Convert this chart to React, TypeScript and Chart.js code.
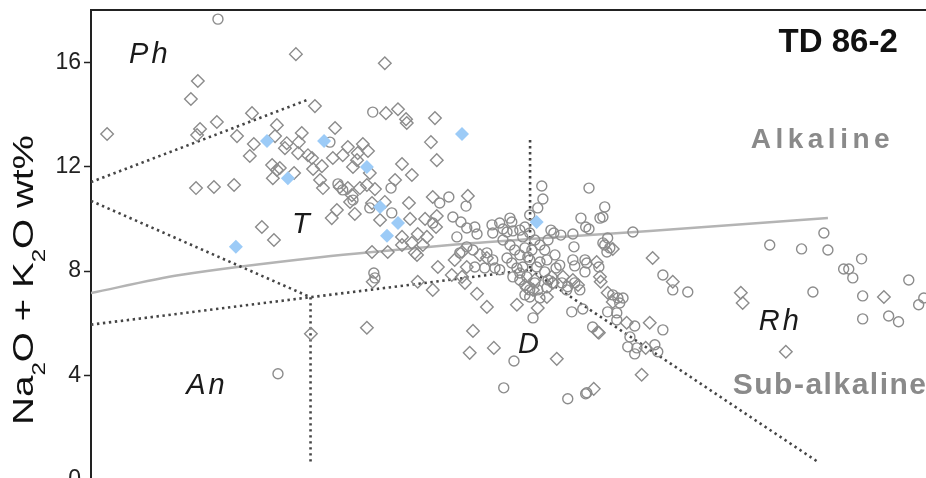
import React, { useEffect, useRef } from "react";
import { Chart, registerables } from "chart.js";

Chart.register(...registerables);

const FONT = '"Liberation Sans", Arial, Helvetica, sans-serif';

// Axis ranges (SiO2 wt% horizontally, total alkali wt% vertically)
const xRange: [number, number] = [57, 80.75];
const yRange: [number, number] = [0, 18];
const yTicks = [0, 4, 8, 12, 16];
const yTitleParts = [
  { text: "Na", sub: false },
  { text: "2", sub: true },
  { text: "O + K", sub: false },
  { text: "2", sub: true },
  { text: "O wt%", sub: false },
];

// Samples: open diamonds
const openDiamonds: [number, number][] = [
  [57.44, 13.25], [62.6, 16.31], [59.92, 15.28], [59.73, 14.59], [63.12, 14.32], [61.4, 14.05], [60.44, 13.71],
  [59.98, 13.44], [59.9, 13.21], [62.08, 13.59], [60.99, 13.17], [62.03, 13.17], [62.76, 13.29], [61.45, 12.87],
  [62.35, 12.9], [62.3, 12.71], [62.68, 12.94], [62.66, 12.52], [61.34, 12.41], [62.93, 12.44], [63.04, 12.33],
  [63.31, 12.02], [63.07, 11.91], [61.95, 12.06], [62.08, 11.87], [62.16, 11.95], [61.97, 11.56], [62.55, 11.76],
  [63.26, 11.49], [63.34, 11.18], [59.87, 11.18], [60.36, 11.22], [60.91, 11.3], [61.67, 9.69], [62.0, 9.19],
  [63.01, 5.6], [63.67, 13.48], [63.61, 12.33], [63.72, 10.34], [63.58, 10.03],
  [65.06, 14.05], [65.39, 14.2], [65.61, 13.82], [65.63, 13.67], [66.4, 13.86], [66.29, 12.94], [66.45, 12.25],
  [64.02, 12.75], [64.43, 12.87], [63.88, 12.44], [64.29, 12.52], [64.57, 12.6], [64.16, 11.99], [64.27, 12.25],
  [64.62, 11.76], [65.5, 12.1], [65.77, 11.68], [65.31, 11.49], [63.8, 11.22], [64.02, 11.18], [64.35, 11.18],
  [64.54, 11.3], [64.76, 11.14], [64.13, 10.91], [64.08, 10.65], [65.03, 10.65], [64.68, 10.61], [65.69, 10.61],
  [66.34, 10.84], [67.3, 10.88], [64.21, 10.19], [64.9, 9.96], [65.72, 10.0], [66.13, 10.0], [66.45, 10.11],
  [66.43, 9.69], [65.5, 9.31], [65.93, 9.42], [66.18, 9.31], [65.5, 9.0], [65.77, 9.08], [64.68, 8.73],
  [65.11, 8.73], [65.85, 8.7], [66.07, 9.0], [65.03, 15.96],
  [65.91, 8.62], [66.48, 8.16], [66.94, 8.43], [67.14, 8.73], [66.86, 7.85], [67.27, 8.16], [67.82, 8.5],
  [67.63, 8.62], [65.93, 7.59], [66.34, 7.28], [67.22, 7.55], [67.14, 7.78], [67.55, 7.13], [67.82, 6.63],
  [68.64, 6.71], [64.7, 7.59], [67.44, 5.71], [67.35, 4.87], [68.01, 5.06], [69.21, 6.59], [69.73, 4.64],
  [70.74, 3.49], [70.85, 5.67], [64.54, 5.83],
  [71.26, 8.85], [70.82, 8.35], [70.91, 7.78], [70.93, 7.59], [69.9, 7.78], [70.17, 7.66], [70.31, 7.47],
  [69.59, 7.78], [69.62, 7.55], [71.12, 7.17], [71.26, 6.82], [68.91, 7.36], [69.08, 7.28], [69.46, 7.01],
  [72.9, 7.59], [71.64, 6.02], [72.27, 6.02], [72.16, 5.06], [72.05, 4.03], [70.88, 5.64], [78.67, 7.01],
  [74.76, 7.17], [74.81, 6.78], [75.99, 4.91], [72.35, 8.5], [68.86, 7.47], [69.13, 7.66],
];

// Samples: open circles
const openCircles: [number, number][] = [
  [60.47, 17.65], [63.53, 12.94], [62.11, 4.07], [63.75, 11.34], [64.7, 14.09], [65.2, 11.18], [63.88, 11.11],
  [64.16, 10.72], [64.62, 10.42], [65.22, 10.23], [66.53, 10.61], [66.78, 10.84], [67.25, 10.49], [66.89, 10.07],
  [66.34, 9.84], [67.11, 9.88], [67.27, 9.65], [67.49, 9.69], [67.0, 9.31], [67.27, 8.93], [67.44, 8.81],
  [67.08, 8.7], [67.55, 9.42],
  [69.32, 11.26], [69.35, 10.76], [69.21, 10.42], [68.99, 10.15], [67.96, 9.77], [68.17, 9.84], [68.45, 10.03],
  [68.5, 9.88], [68.26, 9.61], [68.53, 9.54], [68.86, 9.69], [68.99, 9.46], [68.72, 9.57], [68.8, 9.31],
  [68.37, 9.5], [67.98, 9.46],
  [68.26, 9.19], [68.45, 9.0], [68.58, 8.81], [68.72, 8.62], [68.86, 8.89], [68.94, 8.54], [68.37, 8.5],
  [68.5, 8.31], [68.64, 8.12], [68.8, 8.16], [68.72, 7.93], [68.91, 7.78], [68.53, 7.78], [67.82, 8.7],
  [67.98, 8.43], [68.17, 8.05], [68.99, 8.43], [69.18, 8.16], [69.46, 8.43], [67.49, 8.16], [67.76, 8.12],
  [68.04, 8.12], [64.73, 7.93], [64.76, 7.74],
  [68.56, 4.56], [68.28, 3.53], [69.08, 6.21], [70.03, 3.11], [70.52, 3.3], [70.14, 6.44], [70.44, 6.55],
  [70.71, 5.86],
  [70.52, 9.69], [70.61, 9.61], [69.57, 9.57], [69.65, 9.46], [69.84, 9.38], [70.17, 9.42], [71.81, 9.5],
  [70.2, 8.93], [70.99, 9.08], [71.12, 9.27], [71.18, 8.89], [71.1, 8.73], [70.61, 11.18], [71.04, 10.46],
  [70.91, 10.03], [70.99, 10.07], [70.39, 10.03],
  [69.13, 9.19], [69.27, 9.0], [69.4, 8.81], [69.05, 8.81], [69.49, 9.19], [69.68, 8.62], [69.27, 8.35],
  [69.4, 7.97], [69.71, 8.12], [69.81, 8.23], [69.13, 7.55], [69.49, 7.66], [70.17, 8.43], [70.5, 8.43],
  [70.22, 8.2], [70.88, 8.16], [70.5, 7.97], [70.03, 7.4], [70.36, 7.28], [71.26, 7.09], [71.4, 6.97],
  [71.54, 6.97], [71.45, 6.78], [68.86, 7.09], [68.99, 7.01], [69.27, 6.97], [71.12, 6.44], [71.37, 6.4],
  [68.72, 7.66], [68.99, 7.28], [69.21, 7.28], [69.46, 7.36], [69.62, 7.55], [69.87, 7.55], [70.0, 7.28],
  [70.22, 7.55], [70.55, 8.31], [71.37, 6.13], [71.04, 9.0],
  [72.63, 7.85], [72.9, 7.28], [73.31, 7.2], [71.86, 5.9], [72.63, 5.75], [71.73, 5.48], [71.67, 5.1],
  [71.92, 5.06], [71.86, 4.83], [72.41, 5.18], [72.49, 4.91], [70.55, 3.34],
  [77.03, 9.46], [75.55, 9.0], [76.42, 8.85], [77.14, 8.81], [78.06, 8.47], [77.57, 8.08], [77.71, 8.08],
  [77.82, 7.74], [79.35, 7.66], [79.62, 6.71], [79.76, 6.97], [78.09, 7.05], [78.09, 6.17], [78.8, 6.28],
  [79.07, 6.06], [76.73, 7.2],
];

// Samples: filled blue diamonds
const blueDiamonds: [number, number][] = [
  [61.81, 12.98], [62.38, 11.56], [63.37, 12.98], [60.96, 8.93], [67.14, 13.25],
  [64.54, 11.99], [64.9, 10.46], [65.39, 9.84], [65.09, 9.35], [69.18, 9.88],
];

// Alkaline / sub-alkaline divide
const alkalineDivider: [number, number][] = [
  [57, 7.16], [59.43, 7.85], [63.26, 8.53], [66.81, 9.0], [69.0, 9.23], [72.27, 9.54], [77.14, 10.03],
];

// Field boundaries (dotted)
const boundaryPhT: [number, number][] = [[57, 11.41], [62.9, 14.55]];
const boundaryTAn: [number, number][] = [[57, 10.69], [63, 7.0]];
const boundaryLower: [number, number][] = [[57, 5.95], [63, 7.0], [69, 8.05]];
const boundaryAnD: [number, number][] = [[63, 7.0], [63, 0.66]];
const boundaryTRh: [number, number][] = [[69, 13.02], [69, 8.05]];
const boundaryDRh: [number, number][] = [[69, 8.05], [76.9, 0.66]];

// Field names
const fieldLabels = [
  { text: "Ph", x: 58.04, y: 15.96 },
  { text: "T", x: 62.49, y: 9.46 },
  { text: "An", x: 59.6, y: 3.3 },
  { text: "D", x: 68.67, y: 4.87 },
  { text: "Rh", x: 75.25, y: 5.75 },
];
const sampleName = { text: "TD 86-2", x: 79.05, y: 16.39 };
const seriesNames = [
  { text: "Alkaline", x: 75.03, y: 12.71, size: 28, spacing: 4.5 },
  { text: "Sub-alkaline", x: 74.54, y: 3.3, size: 30, spacing: 1.5 },
];

const toPts = (arr: [number, number][]) => arr.map(([x, y]) => ({ x, y }));

const dotted = (data: [number, number][]) => ({
  type: "line" as const,
  data: toPts(data),
  borderColor: "#454545",
  borderWidth: 2.6,
  borderDash: [2.4, 3.6],
  pointRadius: 0,
  tension: 0,
  fill: false,
});

const decorPlugin = {
  id: "decor",
  afterDraw(chart: any) {
    const { ctx, chartArea } = chart;
    const xs = chart.scales.x;
    const ys = chart.scales.y;
    ctx.save();
    // top frame
    ctx.strokeStyle = "#222";
    ctx.lineWidth = 2;
    ctx.beginPath();
    ctx.moveTo(chartArea.left - 1, chartArea.top);
    ctx.lineTo(chartArea.right, chartArea.top);
    ctx.stroke();

    // field labels
    ctx.fillStyle = "#1a1a1a";
    ctx.textBaseline = "alphabetic";
    ctx.textAlign = "left";
    ctx.font = `italic 29px ${FONT}`;
    (ctx as any).letterSpacing = "3px";
    for (const l of fieldLabels) {
      ctx.fillText(l.text, xs.getPixelForValue(l.x), ys.getPixelForValue(l.y));
    }
    // sample name
    (ctx as any).letterSpacing = "0px";
    ctx.font = `bold 33px ${FONT}`;
    ctx.fillStyle = "#111";
    ctx.textAlign = "right";
    ctx.fillText(sampleName.text, xs.getPixelForValue(sampleName.x), ys.getPixelForValue(sampleName.y));
    // series names
    ctx.textAlign = "left";
    ctx.fillStyle = "#8a8a8a";
    for (const s of seriesNames) {
      ctx.font = `bold ${s.size}px ${FONT}`;
      (ctx as any).letterSpacing = `${s.spacing}px`;
      ctx.fillText(s.text, xs.getPixelForValue(s.x), ys.getPixelForValue(s.y));
    }
    (ctx as any).letterSpacing = "0px";

    // y axis title with subscripts
    const base = 29;
    const sub = 18;
    let total = 0;
    for (const p of yTitleParts) {
      ctx.font = `${p.sub ? sub : base}px ${FONT}`;
      total += ctx.measureText(p.text).width;
    }
    const target = 290;
    const sx = target / total;
    ctx.translate(33, 425);
    ctx.rotate(-Math.PI / 2);
    ctx.scale(sx, 1);
    ctx.fillStyle = "#111";
    let x = 0;
    for (const p of yTitleParts) {
      ctx.font = `${p.sub ? sub : base}px ${FONT}`;
      ctx.fillText(p.text, x, p.sub ? 12 : 0);
      x += ctx.measureText(p.text).width;
    }
    ctx.restore();
  },
};

export default function App() {
  const ref = useRef<HTMLCanvasElement | null>(null);
  useEffect(() => {
    if (!ref.current) return;
    const chart = new Chart(ref.current, {
      type: "scatter",
      data: {
        datasets: [
          {
            data: toPts(blueDiamonds),
            pointStyle: "rectRot",
            pointRadius: 7,
            backgroundColor: "#9ccbf7",
            borderColor: "#9ccbf7",
            borderWidth: 0,
          },
          {
            data: toPts(openDiamonds),
            pointStyle: "rectRot",
            pointRadius: 6.3,
            backgroundColor: "rgba(0,0,0,0)",
            borderColor: "#8c8c8c",
            borderWidth: 1.4,
          },
          {
            data: toPts(openCircles),
            pointStyle: "circle",
            pointRadius: 5,
            backgroundColor: "rgba(0,0,0,0)",
            borderColor: "#8c8c8c",
            borderWidth: 1.4,
          },
          dotted(boundaryPhT),
          dotted(boundaryTAn),
          dotted(boundaryLower),
          dotted(boundaryAnD),
          dotted(boundaryTRh),
          dotted(boundaryDRh),
          {
            type: "line",
            data: toPts(alkalineDivider),
            borderColor: "#b4b4b4",
            borderWidth: 2.5,
            pointRadius: 0,
            tension: 0.3,
            fill: false,
          },
        ] as any,
      },
      options: {
        responsive: false,
        animation: false,
        events: [],
        layout: { autoPadding: false, padding: { top: 10, bottom: 20, left: 0, right: 0 } },
        plugins: { legend: { display: false }, tooltip: { enabled: false } },
        scales: {
          x: { type: "linear", min: xRange[0], max: xRange[1], display: false },
          y: {
            type: "linear",
            min: yRange[0],
            max: yRange[1],
            afterBuildTicks: (scale: any) => {
              scale.ticks = yTicks.map((v) => ({ value: v }));
            },
            afterFit: (scale: any) => {
              scale.width = 91;
              scale.paddingTop = 0;
              scale.paddingBottom = 0;
            },
            ticks: {
              color: "#222",
              padding: 3,
              font: { family: FONT, size: 23 },
            },
            grid: {
              drawOnChartArea: false,
              drawTicks: true,
              tickLength: 7,
              tickColor: "#222",
              tickWidth: 1.5,
            },
            border: { display: true, color: "#222", width: 2 },
          },
        },
      },
      plugins: [decorPlugin],
    } as any);
    return () => chart.destroy();
  }, []);

  return (
    <div
      style={{
        position: "fixed",
        left: 0,
        top: 0,
        width: 926,
        height: 478,
        overflow: "hidden",
        background: "#fff",
      }}
    >
      <canvas ref={ref} width={960} height={500} style={{ display: "block" }} />
    </div>
  );
}
